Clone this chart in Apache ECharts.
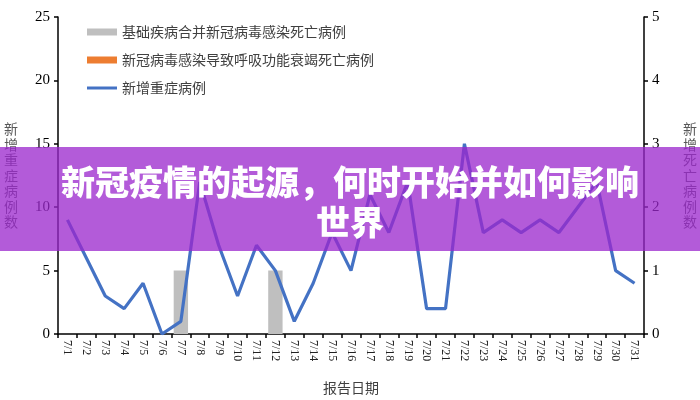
<!DOCTYPE html>
<html lang="zh">

<head>
    <meta charset="UTF-8">
    <title>新冠疫情的起源，何时开始并如何影响世界</title>
    <script src="https://cdn.jsdelivr.net/npm/echarts@6/dist/echarts.min.js"></script>
    <style>
        html, body { margin: 0; padding: 0; background: #fff; }
    </style>
</head>

<body>
    <div id="main" style="width: 700px; height: 400px;"></div>
    <script>
        // 报告日期 7/1 - 7/31
        const dates = [];
        for (let d = 1; d <= 31; d++) dates.push('7/' + d);

        // 新增重症病例（左轴）
        const severeCases = [9, 6, 3, 2, 4, 0, 1, 12, 7, 3, 7, 5, 1, 4, 8, 5,
            11, 8, 12, 2, 2, 15, 8, 9, 8, 9, 8, 10, 12, 5, 4];
        // 基础疾病合并新冠病毒感染死亡病例（右轴）
        const comorbidDeaths = [0, 0, 0, 0, 0, 0, 1, 0, 0, 0, 0, 1, 0, 0, 0, 0,
            0, 0, 0, 0, 0, 0, 0, 0, 0, 0, 0, 0, 0, 0, 0];
        // 新冠病毒感染导致呼吸功能衰竭死亡病例（右轴）
        const respDeaths = [0, 0, 0, 0, 0, 0, 0, 0, 0, 0, 0, 0, 0, 0, 0, 0,
            0, 0, 0, 0, 0, 0, 0, 0, 0, 0, 0, 0, 0, 0, 0];

        const seriesNames = ['基础疾病合并新冠病毒感染死亡病例', '新冠病毒感染导致呼吸功能衰竭死亡病例', '新增重症病例'];
        const titleText = '新冠疫情的起源，何时开始并如何影响\n世界';

        const digits = '"Liberation Serif"';   // 数字用衬线体
        const cjk = '"Noto Sans CJK SC"';
        const vertical = s => s.split('').join('\n');

        const chart = echarts.init(document.getElementById('main'));

        const axisCommon = {
            axisLine: { show: true, lineStyle: { color: '#000', width: 1.5 } },
            axisTick: { show: true, length: 4, lineStyle: { color: '#000', width: 1.5 } },
            splitLine: { show: false },
            axisLabel: { color: '#000', fontFamily: digits, fontSize: 15, margin: 8 },
            nameTextStyle: { color: '#595959', fontFamily: cjk, fontSize: 14, lineHeight: 15.5 }
        };

        const option = {
            animation: false,
            grid: { left: 58, right: 56, top: 17, bottom: 54 },
            legend: {
                orient: 'vertical',
                left: 82,
                top: 20,
                itemGap: 14,
                itemWidth: 30,
                itemHeight: 7,
                textStyle: { color: '#404040', fontFamily: cjk, fontSize: 14 },
                data: [
                    { name: seriesNames[0], icon: 'rect' },
                    { name: seriesNames[1], icon: 'rect' },
                    { name: seriesNames[2], icon: 'path://M0,0L10,0L10,1L0,1Z' }
                ]
            },
            xAxis: {
                type: 'category',
                data: dates,
                boundaryGap: true,
                name: '报告日期',
                nameLocation: 'middle',
                nameGap: 47,
                nameTextStyle: { color: '#404040', fontFamily: cjk, fontSize: 14 },
                axisLine: { show: true, lineStyle: { color: '#000', width: 1.5 } },
                axisTick: { show: true, length: 4, alignWithLabel: false, interval: 0, lineStyle: { color: '#000', width: 1.5 } },
                axisLabel: { interval: 0, rotate: -90, color: '#222', fontFamily: digits, fontSize: 12, margin: 6 }
            },
            yAxis: [
                Object.assign({}, axisCommon, {
                    type: 'value',
                    min: 0, max: 25, interval: 5,
                    name: vertical('新增重症病例数'),
                    nameLocation: 'middle',
                    nameRotate: 0,
                    nameGap: 40
                }),
                Object.assign({}, axisCommon, {
                    type: 'value',
                    position: 'right',
                    min: 0, max: 5, interval: 1,
                    name: vertical('新增死亡病例数'),
                    nameLocation: 'middle',
                    nameRotate: 0,
                    nameGap: 39
                })
            ],
            series: [
                {
                    name: seriesNames[0],
                    type: 'bar',
                    yAxisIndex: 1,
                    data: comorbidDeaths,
                    barWidth: '76%',
                    barGap: '-100%',
                    itemStyle: { color: '#BFBFBF' }
                },
                {
                    name: seriesNames[1],
                    type: 'bar',
                    yAxisIndex: 1,
                    data: respDeaths,
                    barWidth: '76%',
                    itemStyle: { color: '#ED7D31' }
                },
                {
                    name: seriesNames[2],
                    type: 'line',
                    yAxisIndex: 0,
                    data: severeCases,
                    symbol: 'none',
                    lineStyle: { color: '#4472C4', width: 3.2 },
                    itemStyle: { color: '#4472C4' }
                }
            ],
            graphic: [
                {
                    type: 'rect',
                    z: 100,
                    shape: { x: 0, y: 147, width: 700, height: 104 },
                    style: { fill: 'rgba(155, 40, 205, 0.76)' }
                },
                {
                    type: 'text',
                    z: 101,
                    x: 350,
                    y: 202,
                    style: {
                        text: titleText,
                        fill: '#fff',
                        fontFamily: cjk,
                        fontWeight: 900,
                        fontSize: 34,
                        lineHeight: 40,
                        align: 'center',
                        verticalAlign: 'middle'
                    }
                }
            ]
        };

        chart.setOption(option);
    </script>
</body>

</html>
